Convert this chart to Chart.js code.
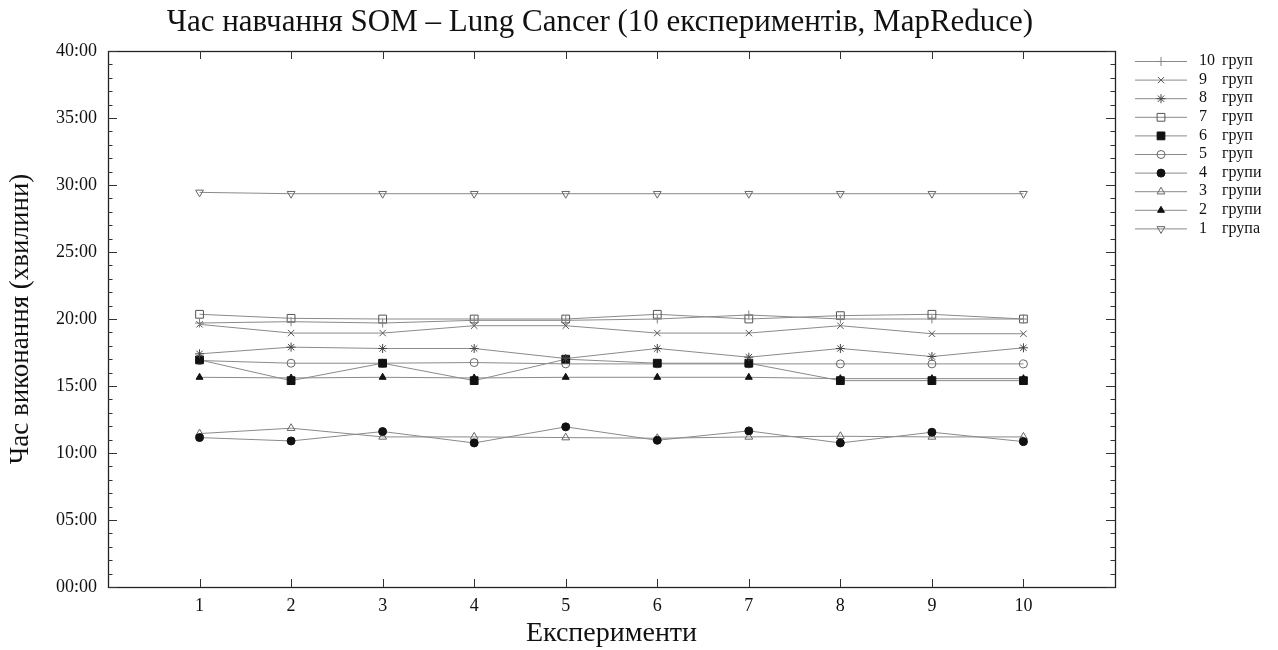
<!DOCTYPE html>
<html lang="uk">
<head>
  <meta charset="UTF-8" />
  <title>Час навчання SOM</title>
  <script src="https://cdn.jsdelivr.net/npm/chart.js@4.4.0/dist/chart.umd.min.js"></script>
  <style>
    body { margin: 0; background: #ffffff; }
    #wrap { width: 1278px; height: 650px; }
  </style>
</head>
<body>
  <div id="wrap"><canvas id="somChart" width="1278" height="650"></canvas></div>

  <script>
    const chartTitle = 'Час навчання SOM – Lung Cancer (10 експериментів, MapReduce)';
    const experiments = [1, 2, 3, 4, 5, 6, 7, 8, 9, 10];
    const yTicks = [0, 5, 10, 15, 20, 25, 30, 35, 40];

    // час у хвилинах для кожної кількості груп
    const groups10 = [19.7, 19.8, 19.7, 19.9, 19.9, 20.0, 20.3, 20.0, 20.0, 20.0];
    const groups9  = [19.6, 18.95, 18.95, 19.5, 19.5, 18.95, 18.95, 19.5, 18.9, 18.9];
    const groups8  = [17.4, 17.9, 17.8, 17.8, 17.05, 17.8, 17.15, 17.8, 17.2, 17.85];
    const groups7  = [20.35, 20.05, 20.0, 20.0, 20.0, 20.35, 20.0, 20.25, 20.35, 20.0];
    const groups6  = [16.95, 15.4, 16.7, 15.4, 17.0, 16.7, 16.7, 15.4, 15.4, 15.4];
    const groups5  = [16.9, 16.7, 16.7, 16.75, 16.65, 16.65, 16.65, 16.65, 16.65, 16.65];
    const groups4  = [11.15, 10.9, 11.6, 10.75, 11.95, 10.95, 11.65, 10.75, 11.55, 10.85];
    const groups3  = [11.45, 11.85, 11.2, 11.2, 11.15, 11.1, 11.2, 11.25, 11.2, 11.2];
    const groups2  = [15.65, 15.6, 15.65, 15.6, 15.65, 15.65, 15.65, 15.55, 15.55, 15.55];
    const groups1  = [29.45, 29.35, 29.35, 29.35, 29.35, 29.35, 29.35, 29.35, 29.35, 29.35];

    const seriesLabels = ['10 груп', '9 груп', '8 груп', '7 груп', '6 груп', '5 груп', '4 групи', '3 групи', '2 групи', '1 група'];
    const seriesValues = [groups10, groups9, groups8, groups7, groups6, groups5, groups4, groups3, groups2, groups1];

    const SERIF = '"Liberation Serif", "DejaVu Serif", serif';
    const LINE = '#8a8a8a';
    const NONE = 'rgba(0,0,0,0)';

    const markers = [
      { style: 'cross',    r: 4.5, fill: NONE, stroke: '#808080' },
      { style: 'crossRot', r: 4.5, fill: NONE, stroke: '#555' },
      { style: 'star',     r: 4.5, fill: NONE, stroke: '#444' },
      { style: 'rect',     r: 5.5, fill: NONE, stroke: '#555' },
      { style: 'rect',     r: 5.5, fill: '#111', stroke: '#111' },
      { style: 'circle',   r: 4,   fill: NONE, stroke: '#666' },
      { style: 'circle',   r: 4,   fill: '#111', stroke: '#111' },
      { style: 'triangle', r: 4.5, fill: NONE, stroke: '#666' },
      { style: 'triangle', r: 4,   fill: '#111', stroke: '#111' },
      { style: 'triangle', r: 4.5, fill: NONE, stroke: '#666', rot: 180 }
    ];

    const datasets = seriesValues.map((vals, i) => ({
      label: seriesLabels[i],
      data: experiments.map((e, j) => ({ x: e, y: vals[j] })),
      borderColor: LINE,
      borderWidth: 1,
      tension: 0,
      fill: false,
      pointStyle: markers[i].style,
      pointRadius: markers[i].r,
      pointRotation: markers[i].rot || 0,
      pointBackgroundColor: markers[i].fill,
      pointBorderColor: markers[i].stroke,
      pointBorderWidth: 1
    }));

    const pad2 = v => String(v).padStart(2, '0');

    // рамка, внутрішні поділки, заголовок і легенда
    const gnuplotFrame = {
      id: 'gnuplotFrame',
      afterDraw(chart) {
        const { ctx, chartArea: a, scales } = chart;
        ctx.save();
        ctx.strokeStyle = '#222';
        ctx.lineWidth = 1.3;
        ctx.strokeRect(a.left + 0.5, a.top + 0.5, a.right - a.left, a.bottom - a.top);

        ctx.lineWidth = 1;
        ctx.strokeStyle = '#333';
        ctx.beginPath();
        for (let m = 0; m <= 40; m++) {
          const y = Math.round(scales.y.getPixelForValue(m)) + 0.5;
          const len = m % 5 === 0 ? 9 : 4.5;
          ctx.moveTo(a.left, y); ctx.lineTo(a.left + len, y);
          ctx.moveTo(a.right, y); ctx.lineTo(a.right - len, y);
        }
        experiments.forEach(e => {
          const x = Math.round(scales.x.getPixelForValue(e)) + 0.5;
          ctx.moveTo(x, a.bottom); ctx.lineTo(x, a.bottom - 8);
          ctx.moveTo(x, a.top); ctx.lineTo(x, a.top + 8);
        });
        ctx.stroke();

        ctx.fillStyle = '#111';
        ctx.font = '31px ' + SERIF;
        ctx.textAlign = 'center';
        ctx.textBaseline = 'middle';
        ctx.fillText(chartTitle, 600, 23);

        // легенда
        const lx = 1135, lw = 52, top = 61, step = 18.6;
        chart.data.datasets.forEach((ds, i) => {
          const y = top + i * step;
          ctx.strokeStyle = LINE;
          ctx.beginPath();
          ctx.moveTo(lx, y + 0.5); ctx.lineTo(lx + lw, y + 0.5);
          ctx.stroke();
          ctx.fillStyle = ds.pointBackgroundColor;
          ctx.strokeStyle = ds.pointBorderColor;
          Chart.helpers.drawPoint(ctx, {
            pointStyle: ds.pointStyle, radius: ds.pointRadius,
            rotation: ds.pointRotation, borderWidth: 1
          }, lx + lw / 2, y + 0.5);
          const parts = ds.label.split(' ');
          ctx.fillStyle = '#111';
          ctx.font = '16px ' + SERIF;
          ctx.textAlign = 'left';
          ctx.fillText(parts[0], 1199, y);
          ctx.fillText(parts[1], 1222, y);
        });
        ctx.restore();
      }
    };

    new Chart(document.getElementById('somChart').getContext('2d'), {
      type: 'line',
      data: { datasets },
      plugins: [gnuplotFrame],
      options: {
        responsive: false,
        animation: false,
        devicePixelRatio: 1,
        layout: { padding: { top: 51, right: 163, left: 0, bottom: 0 } },
        plugins: {
          legend: { display: false },
          tooltip: { enabled: false },
          title: { display: false }
        },
        scales: {
          x: {
            type: 'linear',
            min: 0,
            max: 11,
            afterFit: s => { s.height = 63; },
            afterBuildTicks: s => { s.ticks = experiments.map(v => ({ value: v })); },
            grid: { display: false },
            border: { display: false },
            ticks: { color: '#111', font: { family: SERIF, size: 18 }, padding: 0, maxRotation: 0 },
            title: { display: true, text: 'Експерименти', color: '#111', font: { family: SERIF, size: 28 }, padding: { top: 0, bottom: 0 } }
          },
          y: {
            min: 0,
            max: 40,
            afterFit: s => { s.width = 108; },
            afterBuildTicks: s => { s.ticks = yTicks.map(v => ({ value: v })); },
            grid: { display: false },
            border: { display: false },
            ticks: { color: '#111', font: { family: SERIF, size: 18 }, padding: 3, callback: v => pad2(v) + ':00' },
            title: { display: true, text: 'Час виконання (хвилини)', color: '#111', font: { family: SERIF, size: 27 }, padding: { top: 5, bottom: 0 } }
          }
        }
      }
    });
  </script>
</body>
</html>
